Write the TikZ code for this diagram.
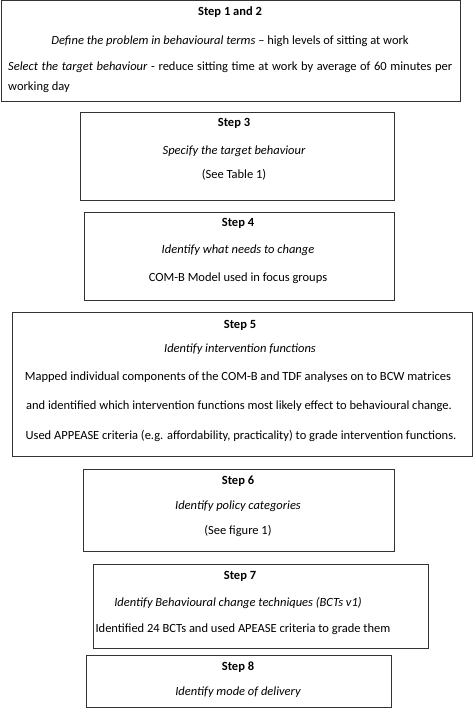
\documentclass[tikz,border=0pt]{standalone}
\usepackage{fontspec}
\setmainfont{Carlito}
\begin{document}
\begin{tikzpicture}[x=1pt,y=-1pt,
  stepframe/.style={draw=black!80,line width=0.9pt},
  txt/.style={inner sep=0pt,text height=8.6pt,text depth=2.7pt,font=\fontsize{12.5}{15}\selectfont},
  ttl/.style={txt,font=\fontsize{12.5}{15}\selectfont\bfseries},
  itl/.style={txt,font=\fontsize{12.5}{15}\selectfont\itshape}]
\useasboundingbox (0,0) rectangle (473,708);
\fill[white] (0,0) rectangle (473,708);
% boxes
\draw[stepframe] (1,0.5) rectangle (460,101);
\draw[stepframe] (80,112) rectangle (394,200);
\draw[stepframe] (84,212) rectangle (394,300);
\draw[stepframe] (12,312) rectangle (472,456);
\draw[stepframe] (83,469) rectangle (394,551);
\draw[stepframe] (93,564) rectangle (428,648);
\draw[stepframe] (86,655) rectangle (391,707);
% box 1
\node[ttl] (t1) at (230,13) {Step 1 and 2};
\node[txt] (t1a) at (230,42) {\textit{Define the problem in behavioural terms} -- high levels of sitting at work};
\node[txt,anchor=west] (t1b) at (8,68) {\makebox[444pt][s]{\textit{Select the target behaviour} - reduce sitting time at work by average of 60 minutes per}};
\node[txt,anchor=west] (t1c) at (8,88) {working day};
% box 3
\node[ttl] (t3) at (234,124) {Step 3};
\node[itl] (t3a) at (234,152) {Specify the target behaviour};
\node[txt] (t3b) at (234,176) {(See Table 1)};
% box 4
\node[ttl] (t4) at (238,224) {Step 4};
\node[itl] (t4a) at (238,251) {Identify what needs to change};
\node[txt] (t4b) at (238,279) {COM-B Model used in focus groups};
% box 5
\node[ttl] (t5) at (240,326) {Step 5};
\node[itl] (t5a) at (240,350) {Identify intervention functions};
\node[txt] (t5b) at (238,378) {Mapped individual components of the COM-B and TDF analyses on to BCW matrices};
\node[txt] (t5c) at (239,407) {and identified which intervention functions most likely effect to behavioural change.};
\node[txt] (t5d) at (241,437) {Used APPEASE criteria (e.g. affordability, practicality) to grade intervention functions.};
% box 6
\node[ttl] (t6) at (238,482) {Step 6};
\node[itl] (t6a) at (238,507) {Identify policy categories};
\node[txt] (t6b) at (238,532) {(See figure 1)};
% box 7
\node[ttl] (t7) at (240,577) {Step 7};
\node[itl] (t7a) at (238,604) {Identify Behavioural change techniques (BCTs v1)};
\node[txt] (t7b) at (243,630) {Identified 24 BCTs and used APEASE criteria to grade them};
% box 8
\node[ttl] (t8) at (238,668) {Step 8};
\node[itl] (t8a) at (238,693) {Identify mode of delivery};
\end{tikzpicture}
\end{document}
